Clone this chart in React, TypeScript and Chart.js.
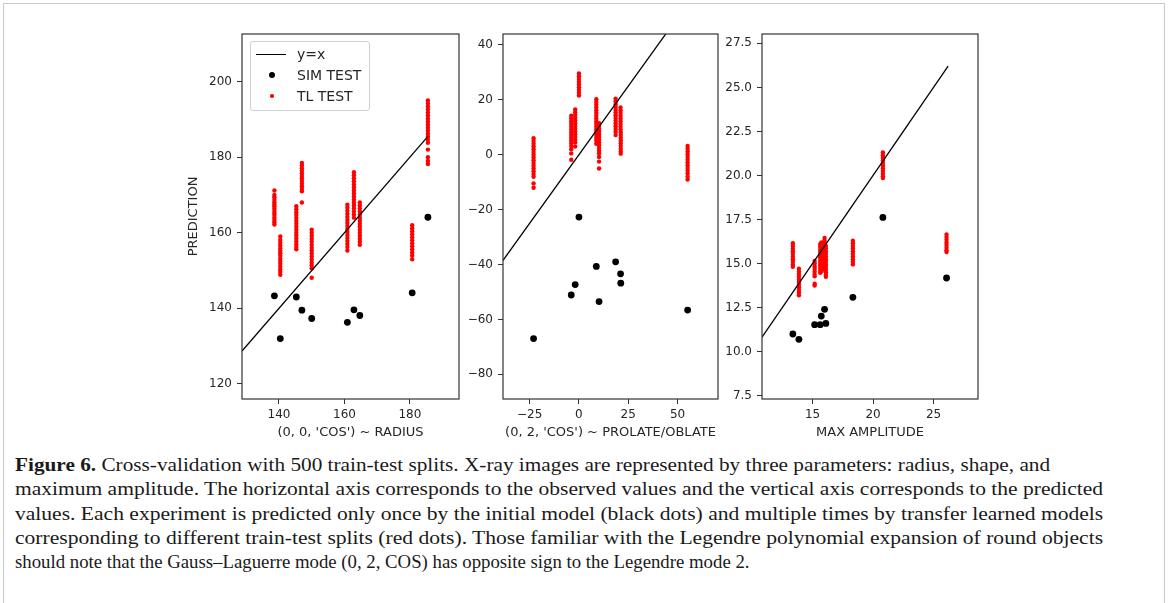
import React, { useEffect, useRef, useLayoutEffect } from "react";
import { Chart, registerables } from "chart.js";

Chart.register(...registerables);

// ---------- Panel 1: (0, 0, 'COS') ~ RADIUS ----------
const radiusObserved = [138.6, 140.4, 145.3, 147.0, 150.0, 160.9, 162.9, 164.7, 180.7, 185.5];
const radiusSim = [143.3, 132.0, 143.0, 139.5, 137.3, 136.3, 139.6, 138.1, 144.1, 164.1];
const radiusTL = [
  [171.2, 170.0, 169.4, 168.7, 168.1, 167.5, 167.0, 166.4, 165.8, 165.2, 164.7, 164.0, 163.4, 162.8, 162.2],
  [159.0, 158.1, 157.3, 156.6, 155.9, 155.2, 154.6, 153.9, 153.1, 152.5, 151.8, 151.0, 150.3, 149.6, 148.9],
  [167.0, 166.2, 165.4, 164.7, 163.9, 163.1, 162.4, 161.6, 160.8, 160.0, 159.3, 158.5, 157.7, 156.9, 156.2, 155.6],
  [178.5, 177.8, 177.1, 176.4, 175.7, 175.0, 174.4, 173.7, 173.0, 172.3, 171.6, 171.0, 168.0],
  [160.8, 160.0, 159.2, 158.4, 157.6, 156.8, 156.0, 155.3, 154.5, 153.7, 152.9, 152.1, 151.4, 150.6, 148.1],
  [167.4, 166.6, 165.8, 165.0, 164.2, 163.4, 162.6, 161.8, 161.0, 160.2, 159.4, 158.6, 157.8, 157.0, 156.2, 155.3],
  [176.0, 175.2, 174.4, 173.6, 172.8, 172.0, 171.2, 170.4, 169.6, 168.8, 168.0, 167.2, 166.4, 165.6, 164.8, 164.0],
  [168.0, 167.2, 166.4, 165.6, 164.8, 164.0, 163.2, 162.4, 161.6, 160.8, 160.0, 159.2, 158.4, 157.6, 156.8],
  [162.0, 161.2, 160.4, 159.6, 158.8, 158.0, 157.2, 156.4, 155.6, 154.8, 154.0, 153.0],
  [195.0, 194.2, 193.4, 192.6, 191.8, 191.0, 190.2, 189.4, 188.6, 187.8, 187.0, 186.2, 185.4, 184.6, 183.8, 182.0, 180.0, 179.0, 178.2],
];
const radiusLine = [128.7, 185.5];
const radiusXRange = [128.7, 195.0];
const radiusYRange = [116.0, 212.6];
const radiusXTicks = [140, 160, 180];
const radiusXTickLabels = ["140", "160", "180"];
const radiusYTicks = [120, 140, 160, 180, 200];
const radiusYTickLabels = ["120", "140", "160", "180", "200"];

// ---------- Panel 2: (0, 2, 'COS') ~ PROLATE/OBLATE ----------
const shapeObserved = [-23.0, -3.9, -1.9, 0.0, 8.8, 10.2, 18.6, 21.1, 21.2, 55.1];
const shapeSim = [-67.0, -51.1, -47.3, -22.7, -40.7, -53.5, -39.0, -43.4, -46.8, -56.6];
const shapeTL = [
  [6.0, 5.0, 4.0, 3.0, 2.0, 1.0, 0.0, -1.0, -2.0, -3.0, -4.0, -5.0, -6.0, -7.0, -8.0, -10.5, -12.0],
  [14.2, 13.2, 12.2, 11.2, 10.2, 9.2, 8.2, 7.2, 6.2, 5.2, 4.2, 3.2, 2.0, 0.5, -1.8],
  [16.5, 15.5, 14.5, 13.5, 12.5, 11.5, 10.5, 9.5, 8.5, 7.5, 6.5, 5.5, 4.5, 3.0],
  [29.6, 28.6, 27.6, 26.6, 25.6, 24.6, 23.6, 22.6, 21.6],
  [20.2, 19.2, 18.2, 17.2, 16.2, 15.2, 14.2, 13.2, 12.2, 11.2, 10.2, 9.2, 8.2, 7.2, 6.2, 5.2, 4.0],
  [11.5, 10.5, 9.5, 8.5, 7.5, 6.5, 5.5, 4.5, 3.5, 2.5, 1.5, 0.5, -0.8, -2.5, -5.0],
  [20.4, 19.4, 18.4, 17.4, 16.4, 15.4, 14.4, 13.4, 12.4, 11.4, 10.4, 9.4, 8.4, 7.2],
  [17.2, 16.2, 15.2, 14.2, 13.2, 12.2, 11.2, 10.2, 9.2],
  [8.2, 7.2, 6.2, 5.2, 4.2, 3.2, 2.2, 1.2, 0.4],
  [3.2, 2.2, 1.2, 0.2, -0.8, -1.8, -2.8, -3.8, -4.8, -5.8, -6.8, -8.0, -9.0],
];
const shapeLine = [-38.5, 55.1];
const shapeXRange = [-38.5, 70.5];
const shapeYRange = [-89.0, 44.0];
const shapeXTicks = [-25, 0, 25, 50];
const shapeXTickLabels = ["\u221225", "0", "25", "50"];
const shapeYTicks = [-80, -60, -40, -20, 0, 20, 40];
const shapeYTickLabels = ["\u221280", "\u221260", "\u221240", "\u221220", "0", "20", "40"];

// ---------- Panel 3: MAX AMPLITUDE ----------
const ampObserved = [13.37, 13.87, 15.17, 15.63, 15.72, 15.99, 16.1, 18.33, 20.81, 26.07];
const ampSim = [11.0, 10.7, 11.53, 11.53, 12.02, 12.4, 11.6, 13.08, 17.62, 14.18];
const ampTL = [
  [16.15, 16.0, 15.85, 15.7, 15.55, 15.4, 15.25, 15.1, 14.95, 14.82],
  [14.7, 14.55, 14.4, 14.25, 14.1, 13.95, 13.8, 13.65, 13.5, 13.35, 13.2],
  [15.15, 15.0, 14.85, 14.7, 14.55, 14.4, 14.28, 13.85, 13.75],
  [16.1, 15.95, 15.8, 15.65, 15.5, 15.35, 15.2, 15.05, 14.9, 14.75, 14.6, 14.47],
  [16.2, 16.05, 15.9, 15.75, 15.6, 15.45, 15.3, 15.15, 15.0, 14.85, 14.7, 14.55],
  [16.45, 16.3, 16.15, 16.0, 15.85, 15.7, 15.55, 15.4, 15.25, 15.1, 14.95, 14.8, 14.65],
  [16.0, 15.85, 15.7, 15.55, 15.4, 15.25, 15.1, 14.95, 14.8, 14.65, 14.5, 14.35, 14.25],
  [16.3, 16.15, 16.0, 15.85, 15.7, 15.55, 15.4, 15.25, 15.1, 14.95],
  [21.3, 21.15, 21.0, 20.85, 20.7, 20.55, 20.4, 20.25, 20.1, 19.95, 19.85],
  [16.65, 16.5, 16.35, 16.2, 16.05, 15.9, 15.75, 15.65],
];
const ampLine = [10.82, 26.2];
const ampXRange = [10.82, 28.67];
const ampYRange = [7.31, 28.03];
const ampXTicks = [15, 20, 25];
const ampXTickLabels = ["15", "20", "25"];
const ampYTicks = [7.5, 10, 12.5, 15, 17.5, 20, 22.5, 25, 27.5];
const ampYTickLabels = ["7.5", "10.0", "12.5", "15.0", "17.5", "20.0", "22.5", "25.0", "27.5"];

const legendLabels = ["y=x", "SIM TEST", "TL TEST"];

const captionBold = "Figure 6.";
const captionLines = [
  " Cross-validation with 500 train-test splits. X-ray images are represented by three parameters: radius, shape, and",
  "maximum amplitude. The horizontal axis corresponds to the observed values and the vertical axis corresponds to the predicted",
  "values. Each experiment is predicted only once by the initial model (black dots) and multiple times by transfer learned models",
  "corresponding to different train-test splits (red dots). Those familiar with the Legendre polynomial expansion of round objects",
  "should note that the Gauss\u2013Laguerre mode (0, 2, COS) has opposite sign to the Legendre mode 2.",
];
const captionTargetWidths = [1035, 1088, 1088, 1088, 735];

const TEXT = "#262626";
const SANS = "'DejaVu Sans', sans-serif";

const spinePlugin = {
  id: "spines",
  afterDatasetsDraw(chart: any) {
    const { ctx, chartArea } = chart;
    const { left, top, right, bottom } = chartArea;
    ctx.save();
    ctx.strokeStyle = "#333";
    ctx.lineWidth = 1.2;
    ctx.strokeRect(left, top, right - left, bottom - top);
    ctx.restore();
  },
};

type PanelProps = {
  obs: number[];
  sim: number[];
  tl: number[][];
  line: number[];
  xRange: number[];
  yRange: number[];
  xTicks: number[];
  xTickLabels: string[];
  yTicks: number[];
  yTickLabels: string[];
  xTitle: string;
  yTitle?: string;
  left: number;
  width: number;
  axisWidth: number;
  padRight: number;
};

function Panel(p: PanelProps) {
  const ref = useRef<HTMLCanvasElement | null>(null);
  useEffect(() => {
    if (!ref.current) return;
    const tickFont = { family: SANS, size: 12 };
    const titleFont = { family: SANS, size: 13 };
    const chart = new Chart(ref.current, {
      type: "scatter",
      data: {
        datasets: [
          {
            type: "line",
            label: legendLabels[0],
            data: [
              { x: p.line[0], y: p.line[0] },
              { x: p.line[1], y: p.line[1] },
            ],
            borderColor: "#000",
            borderWidth: 1.3,
            pointRadius: 0,
            fill: false,
          } as any,
          {
            label: legendLabels[1],
            data: p.obs.map((x, i) => ({ x, y: p.sim[i] })),
            backgroundColor: "#000",
            pointRadius: 3.4,
            borderWidth: 0,
          },
          {
            label: legendLabels[2],
            data: p.tl.flatMap((col, i) => col.map((y) => ({ x: p.obs[i], y }))),
            backgroundColor: "#ff0000",
            pointRadius: 2.2,
            borderWidth: 0,
          },
        ],
      },
      options: {
        animation: false,
        responsive: false,
        maintainAspectRatio: false,
        events: [],
        layout: { padding: { left: 0, right: p.padRight, top: 34, bottom: 6 } },
        plugins: { legend: { display: false }, tooltip: { enabled: false } },
        scales: {
          x: {
            type: "linear",
            min: p.xRange[0],
            max: p.xRange[1],
            afterBuildTicks: (a: any) => {
              a.ticks = p.xTicks.map((v) => ({ value: v }));
            },
            afterFit: (a: any) => {
              a.height = 45;
            },
            ticks: {
              callback: (_v: any, i: number) => p.xTickLabels[i],
              font: tickFont,
              color: TEXT,
              padding: 4,
              maxRotation: 0,
              autoSkip: false,
            },
            grid: { display: true, drawOnChartArea: false, drawTicks: true, tickLength: 5, tickColor: "#333", tickWidth: 1 },
            border: { display: false },
            title: { display: true, text: p.xTitle, font: titleFont, color: TEXT, padding: { top: 0, bottom: 4 } },
          },
          y: {
            type: "linear",
            min: p.yRange[0],
            max: p.yRange[1],
            afterBuildTicks: (a: any) => {
              a.ticks = p.yTicks.map((v) => ({ value: v }));
            },
            afterFit: (a: any) => {
              a.width = p.axisWidth;
            },
            ticks: {
              callback: (_v: any, i: number) => p.yTickLabels[i],
              font: tickFont,
              color: TEXT,
              padding: 5,
              autoSkip: false,
            },
            grid: { display: true, drawOnChartArea: false, drawTicks: true, tickLength: 5, tickColor: "#333", tickWidth: 1 },
            border: { display: false },
            title: {
              display: !!p.yTitle,
              text: p.yTitle || "",
              font: titleFont,
              color: TEXT,
              padding: { top: 11, bottom: 0 },
            },
          },
        },
      },
      plugins: [spinePlugin],
    } as any);
    return () => chart.destroy();
  }, []);
  return (
    <canvas
      ref={ref}
      width={p.width}
      height={450}
      style={{ position: "absolute", left: p.left, top: 0, width: p.width, height: 450 }}
    />
  );
}

function Legend() {
  const rowStyle = (top: number): React.CSSProperties => ({
    position: "absolute",
    left: 0,
    top,
    width: "100%",
    height: 20,
  });
  const textStyle: React.CSSProperties = {
    position: "absolute",
    left: 46,
    top: 0,
    lineHeight: "20px",
    fontFamily: SANS,
    fontSize: 14,
    color: TEXT,
    whiteSpace: "nowrap",
  };
  return (
    <div
      style={{
        position: "absolute",
        left: 250,
        top: 41,
        width: 118,
        height: 68,
        border: "1px solid #d0d0d0",
        borderRadius: 3,
        background: "rgba(255,255,255,0.85)",
      }}
    >
      <div style={rowStyle(2)}>
        <div style={{ position: "absolute", left: 5, top: 9.5, width: 30, height: 0, borderTop: "1.3px solid #000" }} />
        <div style={textStyle}>{legendLabels[0]}</div>
      </div>
      <div style={rowStyle(23)}>
        <div style={{ position: "absolute", left: 17.5, top: 6.5, width: 6.5, height: 6.5, borderRadius: "50%", background: "#000" }} />
        <div style={textStyle}>{legendLabels[1]}</div>
      </div>
      <div style={rowStyle(44)}>
        <div style={{ position: "absolute", left: 19, top: 8, width: 3.5, height: 3.5, borderRadius: "50%", background: "#ff0000" }} />
        <div style={textStyle}>{legendLabels[2]}</div>
      </div>
    </div>
  );
}

function Caption() {
  const refs = useRef<(HTMLDivElement | null)[]>([]);
  useLayoutEffect(() => {
    refs.current.forEach((el, i) => {
      if (!el) return;
      const w = el.scrollWidth;
      if (w > 0) el.style.transform = `scaleX(${captionTargetWidths[i] / w})`;
    });
  }, []);
  return (
    <div style={{ position: "absolute", left: 15, top: 453, fontFamily: "'Liberation Serif', serif", fontSize: 19, color: "#1a1a1a" }}>
      {captionLines.map((line, i) => (
        <div
          key={i}
          ref={(el) => {
            refs.current[i] = el;
          }}
          style={{ whiteSpace: "nowrap", lineHeight: "24.3px", height: 24.3, display: "block", width: "max-content", transformOrigin: "0 0" }}
        >
          {i === 0 ? <b>{captionBold}</b> : null}
          {line}
        </div>
      ))}
    </div>
  );
}

export default function App() {
  return (
    <div style={{ position: "fixed", left: 0, top: 0, width: 1170, height: 603, background: "#fff", overflow: "hidden" }}>
      <div style={{ position: "absolute", left: 3, top: 3, width: 1160, height: 700, border: "1.5px solid #c8c8c8" }} />
      <Panel
        obs={radiusObserved}
        sim={radiusSim}
        tl={radiusTL}
        line={radiusLine}
        xRange={radiusXRange}
        yRange={radiusYRange}
        xTicks={radiusXTicks}
        xTickLabels={radiusXTickLabels}
        yTicks={radiusYTicks}
        yTickLabels={radiusYTickLabels}
        xTitle="(0, 0, 'COS') ~ RADIUS"
        yTitle="PREDICTION"
        left={175}
        width={295}
        axisWidth={67}
        padRight={11}
      />
      <Panel
        obs={shapeObserved}
        sim={shapeSim}
        tl={shapeTL}
        line={shapeLine}
        xRange={shapeXRange}
        yRange={shapeYRange}
        xTicks={shapeXTicks}
        xTickLabels={shapeXTickLabels}
        yTicks={shapeYTicks}
        yTickLabels={shapeYTickLabels}
        xTitle="(0, 2, 'COS') ~ PROLATE/OBLATE"
        left={460}
        width={270}
        axisWidth={43}
        padRight={12}
      />
      <Panel
        obs={ampObserved}
        sim={ampSim}
        tl={ampTL}
        line={ampLine}
        xRange={ampXRange}
        yRange={ampYRange}
        xTicks={ampXTicks}
        xTickLabels={ampXTickLabels}
        yTicks={ampYTicks}
        yTickLabels={ampYTickLabels}
        xTitle="MAX AMPLITUDE"
        left={720}
        width={270}
        axisWidth={42}
        padRight={12}
      />
      <Legend />
      <Caption />
    </div>
  );
}
